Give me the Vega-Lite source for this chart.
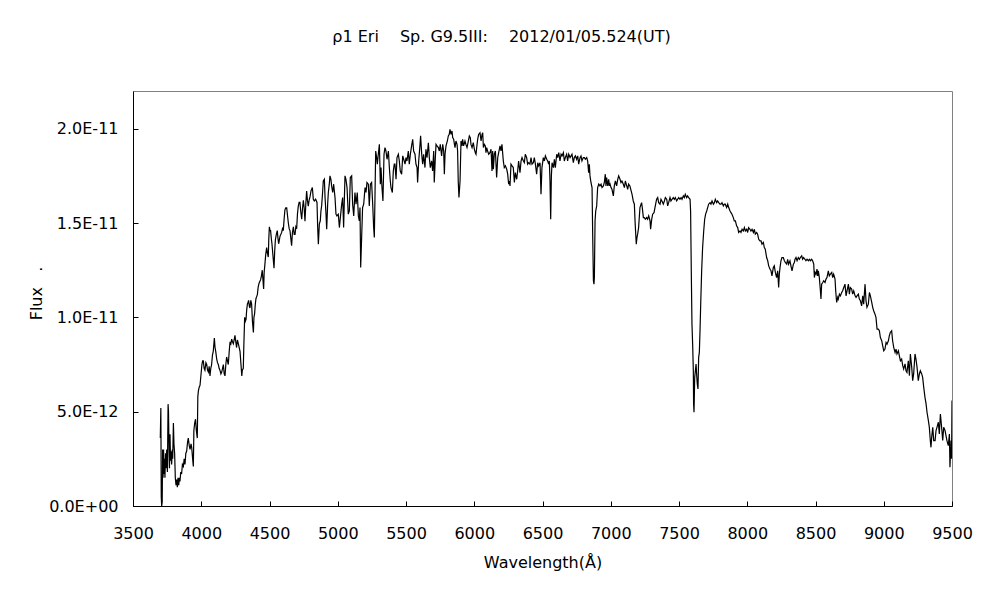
{
  "$schema": "https://vega.github.io/schema/vega-lite/v6.json",
  "autosize": {"type": "none"},
  "width": 819,
  "height": 415,
  "padding": {"left": 133, "top": 91, "right": 48, "bottom": 94},
  "background": "white",
  "config": {
    "font": "DejaVu Sans",
    "view": {"stroke": "#808080", "strokeWidth": 1},
    "axis": {"grid": false, "domainColor": "black", "tickColor": "black", "labelColor": "black", "titleColor": "black", "labelFontSize": 16, "titleFontSize": 16, "titleFontWeight": "normal", "tickSize": -5, "labelFont": "DejaVu Sans", "titleFont": "DejaVu Sans"}
  },
  "title": {"text": "ρ1 Eri　 Sp. G9.5III:　 2012/01/05.524(UT)", "font": "DejaVu Sans", "fontSize": 16, "fontWeight": "normal", "color": "black", "offset": 46, "anchor": "middle", "dx": -41},
  "data": {"values": [
{"w":3700,"f":0.36e-11},{"w":3704,"f":0.52e-11},{"w":3707,"f":0.05e-11},{"w":3710,"f":0},{"w":3714,"f":0.02e-11},{"w":3717,"f":0.30e-11},{"w":3720,"f":0.15e-11},{"w":3724,"f":0.30e-11},{"w":3727,"f":0.17e-11},{"w":3731,"f":0.25e-11},{"w":3734,"f":0.15e-11},{"w":3738,"f":0.28e-11},{"w":3742,"f":0.20e-11},{"w":3747,"f":0.30e-11},{"w":3752,"f":0.18e-11},{"w":3757,"f":0.54e-11},{"w":3760,"f":0.50e-11},{"w":3764,"f":0.30e-11},{"w":3767,"f":0.20e-11},{"w":3771,"f":0.38e-11},{"w":3775,"f":0.24e-11},{"w":3778,"f":0.29e-11},{"w":3783,"f":0.22e-11},{"w":3788,"f":0.30e-11},{"w":3791,"f":0.25e-11},{"w":3796,"f":0.44e-11},{"w":3800,"f":0.33e-11},{"w":3805,"f":0.28e-11},{"w":3810,"f":0.15e-11},{"w":3815,"f":0.11e-11},{"w":3820,"f":0.14e-11},{"w":3825,"f":0.10e-11},{"w":3830,"f":0.15e-11},{"w":3835,"f":0.11e-11},{"w":3840,"f":0.15e-11},{"w":3844,"f":0.13e-11},{"w":3850,"f":0.18e-11},{"w":3856,"f":0.17e-11},{"w":3862,"f":0.22e-11},{"w":3869,"f":0.21e-11},{"w":3875,"f":0.25e-11},{"w":3881,"f":0.22e-11},{"w":3887,"f":0.28e-11},{"w":3893,"f":0.29e-11},{"w":3900,"f":0.34e-11},{"w":3905,"f":0.36e-11},{"w":3912,"f":0.32e-11},{"w":3918,"f":0.30e-11},{"w":3925,"f":0.33e-11},{"w":3930,"f":0.31e-11},{"w":3937,"f":0.25e-11},{"w":3942,"f":0.21e-11},{"w":3946,"f":0.40e-11},{"w":3952,"f":0.44e-11},{"w":3958,"f":0.46e-11},{"w":3964,"f":0.40e-11},{"w":3971,"f":0.36e-11},{"w":3975,"f":0.58e-11},{"w":3979,"f":0.61e-11},{"w":3985,"f":0.63e-11},{"w":3991,"f":0.64e-11},{"w":3996,"f":0.68e-11},{"w":4005,"f":0.75e-11},{"w":4010,"f":0.77e-11},{"w":4015,"f":0.77e-11},{"w":4021,"f":0.73e-11},{"w":4027,"f":0.72e-11},{"w":4034,"f":0.76e-11},{"w":4040,"f":0.75e-11},{"w":4046,"f":0.72e-11},{"w":4052,"f":0.71e-11},{"w":4058,"f":0.74e-11},{"w":4064,"f":0.69e-11},{"w":4070,"f":0.73e-11},{"w":4076,"f":0.75e-11},{"w":4082,"f":0.80e-11},{"w":4088,"f":0.82e-11},{"w":4096,"f":0.89e-11},{"w":4101,"f":0.84e-11},{"w":4106,"f":0.82e-11},{"w":4113,"f":0.78e-11},{"w":4119,"f":0.76e-11},{"w":4125,"f":0.75e-11},{"w":4131,"f":0.73e-11},{"w":4137,"f":0.72e-11},{"w":4144,"f":0.70e-11},{"w":4150,"f":0.71e-11},{"w":4156,"f":0.73e-11},{"w":4162,"f":0.75e-11},{"w":4168,"f":0.70e-11},{"w":4174,"f":0.69e-11},{"w":4180,"f":0.75e-11},{"w":4186,"f":0.79e-11},{"w":4192,"f":0.77e-11},{"w":4198,"f":0.75e-11},{"w":4205,"f":0.82e-11},{"w":4211,"f":0.87e-11},{"w":4217,"f":0.86e-11},{"w":4223,"f":0.885e-11},{"w":4229,"f":0.87e-11},{"w":4235,"f":0.86e-11},{"w":4241,"f":0.88e-11},{"w":4247,"f":0.905e-11},{"w":4253,"f":0.87e-11},{"w":4259,"f":0.84e-11},{"w":4265,"f":0.88e-11},{"w":4272,"f":0.86e-11},{"w":4278,"f":0.84e-11},{"w":4284,"f":0.82e-11},{"w":4291,"f":0.75e-11},{"w":4297,"f":0.69e-11},{"w":4301,"f":0.72e-11},{"w":4308,"f":0.73e-11},{"w":4312,"f":0.85e-11},{"w":4318,"f":1.00e-11},{"w":4323,"f":0.98e-11},{"w":4328,"f":0.99e-11},{"w":4333,"f":1.04e-11},{"w":4338,"f":1.07e-11},{"w":4343,"f":1.08e-11},{"w":4347,"f":1.09e-11},{"w":4352,"f":1.06e-11},{"w":4357,"f":1.05e-11},{"w":4363,"f":1.09e-11},{"w":4369,"f":1.07e-11},{"w":4375,"f":0.98e-11},{"w":4382,"f":0.92e-11},{"w":4386,"f":1.00e-11},{"w":4391,"f":1.02e-11},{"w":4396,"f":1.07e-11},{"w":4401,"f":1.10e-11},{"w":4406,"f":1.11e-11},{"w":4411,"f":1.12e-11},{"w":4417,"f":1.16e-11},{"w":4423,"f":1.18e-11},{"w":4429,"f":1.19e-11},{"w":4435,"f":1.20e-11},{"w":4441,"f":1.22e-11},{"w":4447,"f":1.25e-11},{"w":4452,"f":1.20e-11},{"w":4457,"f":1.15e-11},{"w":4461,"f":1.24e-11},{"w":4465,"f":1.27e-11},{"w":4472,"f":1.33e-11},{"w":4479,"f":1.37e-11},{"w":4485,"f":1.34e-11},{"w":4491,"f":1.32e-11},{"w":4495,"f":1.42e-11},{"w":4499,"f":1.48e-11},{"w":4504,"f":1.46e-11},{"w":4508,"f":1.46e-11},{"w":4513,"f":1.42e-11},{"w":4518,"f":1.39e-11},{"w":4525,"f":1.33e-11},{"w":4533,"f":1.26e-11},{"w":4538,"f":1.35e-11},{"w":4543,"f":1.41e-11},{"w":4550,"f":1.44e-11},{"w":4557,"f":1.46e-11},{"w":4562,"f":1.42e-11},{"w":4567,"f":1.39e-11},{"w":4572,"f":1.41e-11},{"w":4577,"f":1.43e-11},{"w":4583,"f":1.44e-11},{"w":4589,"f":1.45e-11},{"w":4595,"f":1.47e-11},{"w":4601,"f":1.46e-11},{"w":4607,"f":1.52e-11},{"w":4613,"f":1.57e-11},{"w":4619,"f":1.58e-11},{"w":4626,"f":1.58e-11},{"w":4632,"f":1.54e-11},{"w":4638,"f":1.50e-11},{"w":4644,"f":1.47e-11},{"w":4650,"f":1.46e-11},{"w":4656,"f":1.42e-11},{"w":4662,"f":1.38e-11},{"w":4668,"f":1.45e-11},{"w":4675,"f":1.48e-11},{"w":4681,"f":1.44e-11},{"w":4687,"f":1.44e-11},{"w":4693,"f":1.48e-11},{"w":4699,"f":1.47e-11},{"w":4705,"f":1.55e-11},{"w":4711,"f":1.59e-11},{"w":4717,"f":1.61e-11},{"w":4723,"f":1.61e-11},{"w":4729,"f":1.56e-11},{"w":4736,"f":1.52e-11},{"w":4742,"f":1.58e-11},{"w":4748,"f":1.62e-11},{"w":4754,"f":1.58e-11},{"w":4760,"f":1.51e-11},{"w":4766,"f":1.60e-11},{"w":4772,"f":1.67e-11},{"w":4778,"f":1.62e-11},{"w":4784,"f":1.59e-11},{"w":4790,"f":1.62e-11},{"w":4797,"f":1.64e-11},
{"w":4804,"f":1.670e-11},{"w":4814,"f":1.688e-11},{"w":4821,"f":1.626e-11},{"w":4828,"f":1.617e-11},{"w":4838,"f":1.626e-11},{"w":4848,"f":1.609e-11},{"w":4853,"f":1.476e-11},{"w":4858,"f":1.388e-11},{"w":4865,"f":1.494e-11},{"w":4872,"f":1.512e-11},{"w":4877,"f":1.565e-11},{"w":4882,"f":1.591e-11},{"w":4889,"f":1.662e-11},{"w":4894,"f":1.723e-11},{"w":4902,"f":1.732e-11},{"w":4907,"f":1.635e-11},{"w":4914,"f":1.547e-11},{"w":4919,"f":1.467e-11},{"w":4926,"f":1.600e-11},{"w":4931,"f":1.662e-11},{"w":4938,"f":1.706e-11},{"w":4943,"f":1.750e-11},{"w":4950,"f":1.732e-11},{"w":4955,"f":1.697e-11},{"w":4963,"f":1.662e-11},{"w":4970,"f":1.706e-11},{"w":4980,"f":1.635e-11},{"w":4987,"f":1.547e-11},{"w":4994,"f":1.538e-11},{"w":5004,"f":1.547e-11},{"w":5012,"f":1.476e-11},{"w":5019,"f":1.529e-11},{"w":5029,"f":1.600e-11},{"w":5036,"f":1.635e-11},{"w":5043,"f":1.476e-11},{"w":5053,"f":1.750e-11},{"w":5060,"f":1.732e-11},{"w":5068,"f":1.688e-11},{"w":5077,"f":1.547e-11},{"w":5085,"f":1.565e-11},{"w":5092,"f":1.741e-11},{"w":5102,"f":1.750e-11},{"w":5109,"f":1.600e-11},{"w":5117,"f":1.538e-11},{"w":5126,"f":1.662e-11},{"w":5134,"f":1.600e-11},{"w":5143,"f":1.662e-11},{"w":5151,"f":1.538e-11},{"w":5158,"f":1.512e-11},{"w":5163,"f":1.582e-11},{"w":5168,"f":1.265e-11},{"w":5175,"f":1.423e-11},{"w":5182,"f":1.582e-11},{"w":5190,"f":1.600e-11},{"w":5200,"f":1.688e-11},{"w":5207,"f":1.662e-11},{"w":5214,"f":1.715e-11},{"w":5224,"f":1.706e-11},{"w":5231,"f":1.591e-11},{"w":5239,"f":1.706e-11},{"w":5248,"f":1.715e-11},{"w":5256,"f":1.600e-11},{"w":5263,"f":1.476e-11},{"w":5268,"f":1.423e-11},{"w":5273,"f":1.653e-11},{"w":5278,"f":1.882e-11},{"w":5285,"f":1.847e-11},{"w":5290,"f":1.812e-11},{"w":5297,"f":1.865e-11},{"w":5305,"f":1.917e-11},{"w":5312,"f":1.706e-11},{"w":5317,"f":1.794e-11},{"w":5324,"f":1.688e-11},{"w":5331,"f":1.617e-11},{"w":5339,"f":1.865e-11},{"w":5346,"f":1.900e-11},{"w":5353,"f":1.882e-11},{"w":5361,"f":1.838e-11},{"w":5371,"f":1.882e-11},{"w":5378,"f":1.794e-11},{"w":5385,"f":1.723e-11},{"w":5390,"f":1.688e-11},{"w":5400,"f":1.662e-11},{"w":5407,"f":1.776e-11},{"w":5414,"f":1.812e-11},{"w":5419,"f":1.812e-11},{"w":5427,"f":1.732e-11},{"w":5434,"f":1.847e-11},{"w":5444,"f":1.865e-11},{"w":5451,"f":1.829e-11},{"w":5458,"f":1.776e-11},{"w":5468,"f":1.759e-11},{"w":5476,"f":1.856e-11},{"w":5483,"f":1.838e-11},{"w":5493,"f":1.812e-11},{"w":5500,"f":1.847e-11},{"w":5507,"f":1.829e-11},{"w":5517,"f":1.882e-11},{"w":5524,"f":1.812e-11},{"w":5532,"f":1.865e-11},{"w":5541,"f":1.909e-11},{"w":5549,"f":1.944e-11},{"w":5556,"f":1.882e-11},{"w":5566,"f":1.865e-11},{"w":5573,"f":1.812e-11},{"w":5581,"f":1.794e-11},{"w":5585,"f":1.715e-11},{"w":5593,"f":1.829e-11},{"w":5602,"f":1.909e-11},{"w":5607,"f":1.962e-11},{"w":5615,"f":1.865e-11},{"w":5622,"f":1.812e-11},{"w":5629,"f":1.865e-11},{"w":5639,"f":1.794e-11},{"w":5646,"f":1.891e-11},{"w":5654,"f":1.847e-11},{"w":5664,"f":1.926e-11},{"w":5671,"f":1.847e-11},{"w":5678,"f":1.794e-11},{"w":5688,"f":1.829e-11},{"w":5695,"f":1.776e-11},{"w":5703,"f":1.882e-11},{"w":5707,"f":1.715e-11},{"w":5715,"f":1.847e-11},{"w":5720,"f":1.917e-11},{"w":5727,"f":1.909e-11},{"w":5737,"f":1.900e-11},{"w":5744,"f":1.882e-11},{"w":5751,"f":1.917e-11},{"w":5761,"f":1.856e-11},{"w":5769,"f":1.917e-11},{"w":5776,"f":1.882e-11},{"w":5781,"f":1.759e-11},{"w":5786,"f":1.865e-11},{"w":5793,"f":1.909e-11},{"w":5803,"f":1.935e-11},{"w":5810,"f":1.962e-11},{"w":5817,"f":1.970e-11},{"w":5822,"f":1.997e-11},{"w":5830,"f":1.970e-11},{"w":5837,"f":1.988e-11},{"w":5842,"f":1.953e-11},{"w":5849,"f":1.944e-11},{"w":5859,"f":1.900e-11},{"w":5866,"f":1.935e-11},{"w":5874,"f":1.917e-11},{"w":5878,"f":1.882e-11},{"w":5883,"f":1.715e-11},{"w":5888,"f":1.635e-11},{"w":5896,"f":1.723e-11},{"w":5903,"f":1.935e-11},{"w":5910,"f":1.909e-11},{"w":5915,"f":1.944e-11},{"w":5922,"f":1.909e-11},{"w":5932,"f":1.935e-11},{"w":5939,"f":1.917e-11},{"w":5947,"f":1.900e-11},{"w":5957,"f":1.935e-11},{"w":5964,"f":1.962e-11},{"w":5971,"f":1.953e-11},
{"w":5976,"f":1.917e-11},{"w":5984,"f":1.900e-11},{"w":5993,"f":1.926e-11},{"w":6001,"f":1.891e-11},{"w":6008,"f":1.873e-11},{"w":6013,"f":1.865e-11},{"w":6018,"f":1.900e-11},{"w":6025,"f":1.944e-11},{"w":6032,"f":1.970e-11},{"w":6042,"f":1.979e-11},{"w":6050,"f":1.935e-11},{"w":6057,"f":1.970e-11},{"w":6062,"f":1.979e-11},{"w":6067,"f":1.900e-11},{"w":6074,"f":1.917e-11},{"w":6081,"f":1.909e-11},{"w":6086,"f":1.873e-11},{"w":6091,"f":1.900e-11},{"w":6098,"f":1.882e-11},{"w":6106,"f":1.865e-11},{"w":6115,"f":1.873e-11},{"w":6123,"f":1.891e-11},{"w":6130,"f":1.776e-11},{"w":6135,"f":1.882e-11},{"w":6140,"f":1.785e-11},{"w":6147,"f":1.865e-11},{"w":6155,"f":1.882e-11},{"w":6164,"f":1.741e-11},{"w":6172,"f":1.847e-11},{"w":6179,"f":1.873e-11},{"w":6189,"f":1.909e-11},{"w":6196,"f":1.882e-11},{"w":6203,"f":1.917e-11},{"w":6213,"f":1.829e-11},{"w":6220,"f":1.794e-11},{"w":6228,"f":1.803e-11},{"w":6238,"f":1.785e-11},{"w":6245,"f":1.759e-11},{"w":6252,"f":1.706e-11},{"w":6257,"f":1.723e-11},{"w":6262,"f":1.697e-11},{"w":6269,"f":1.812e-11},{"w":6277,"f":1.803e-11},{"w":6286,"f":1.794e-11},{"w":6294,"f":1.715e-11},{"w":6301,"f":1.767e-11},{"w":6311,"f":1.732e-11},{"w":6318,"f":1.776e-11},{"w":6325,"f":1.829e-11},{"w":6335,"f":1.767e-11},{"w":6343,"f":1.829e-11},{"w":6350,"f":1.847e-11},{"w":6360,"f":1.829e-11},{"w":6367,"f":1.820e-11},{"w":6374,"f":1.865e-11},{"w":6384,"f":1.847e-11},{"w":6391,"f":1.812e-11},{"w":6399,"f":1.820e-11},{"w":6408,"f":1.812e-11},{"w":6416,"f":1.847e-11},{"w":6423,"f":1.812e-11},{"w":6433,"f":1.820e-11},{"w":6440,"f":1.847e-11},{"w":6448,"f":1.812e-11},{"w":6457,"f":1.759e-11},{"w":6465,"f":1.820e-11},{"w":6472,"f":1.803e-11},{"w":6482,"f":1.820e-11},{"w":6489,"f":1.653e-11},{"w":6496,"f":1.794e-11},{"w":6506,"f":1.847e-11},{"w":6514,"f":1.829e-11},{"w":6521,"f":1.856e-11},{"w":6531,"f":1.838e-11},{"w":6538,"f":1.829e-11},{"w":6545,"f":1.812e-11},{"w":6550,"f":1.829e-11},{"w":6555,"f":1.723e-11},{"w":6560,"f":1.520e-11},{"w":6565,"f":1.750e-11},{"w":6570,"f":1.820e-11},{"w":6580,"f":1.794e-11},{"w":6587,"f":1.838e-11},{"w":6594,"f":1.794e-11},{"w":6604,"f":1.865e-11},{"w":6611,"f":1.847e-11},{"w":6619,"f":1.873e-11},{"w":6628,"f":1.829e-11},{"w":6636,"f":1.865e-11},{"w":6643,"f":1.856e-11},{"w":6653,"f":1.873e-11},{"w":6660,"f":1.829e-11},{"w":6667,"f":1.847e-11},{"w":6677,"f":1.865e-11},{"w":6684,"f":1.829e-11},{"w":6692,"f":1.865e-11},{"w":6702,"f":1.847e-11},{"w":6709,"f":1.856e-11},{"w":6716,"f":1.865e-11},{"w":6726,"f":1.820e-11},{"w":6733,"f":1.847e-11},{"w":6741,"f":1.856e-11},{"w":6750,"f":1.838e-11},{"w":6758,"f":1.856e-11},{"w":6765,"f":1.812e-11},{"w":6775,"f":1.847e-11},{"w":6782,"f":1.856e-11},{"w":6789,"f":1.829e-11},{"w":6799,"f":1.847e-11},{"w":6807,"f":1.847e-11},{"w":6814,"f":1.838e-11},{"w":6824,"f":1.847e-11},{"w":6831,"f":1.829e-11},{"w":6838,"f":1.767e-11},{"w":6843,"f":1.812e-11},{"w":6848,"f":1.750e-11},{"w":6855,"f":1.715e-11},{"w":6863,"f":1.688e-11},{"w":6868,"f":1.423e-11},{"w":6873,"f":1.194e-11},{"w":6877,"f":1.176e-11},{"w":6880,"f":1.212e-11},{"w":6885,"f":1.512e-11},{"w":6890,"f":1.565e-11},{"w":6897,"f":1.591e-11},{"w":6904,"f":1.688e-11},{"w":6912,"f":1.706e-11},{"w":6921,"f":1.697e-11},{"w":6929,"f":1.706e-11},{"w":6936,"f":1.688e-11},{"w":6946,"f":1.697e-11},{"w":6953,"f":1.715e-11},{"w":6960,"f":1.759e-11},{"w":6965,"f":1.697e-11},{"w":6970,"f":1.741e-11},{"w":6978,"f":1.697e-11},{"w":6985,"f":1.732e-11},{"w":6990,"f":1.697e-11},{"w":6995,"f":1.706e-11},{"w":7002,"f":1.688e-11},{"w":7009,"f":1.679e-11},{"w":7019,"f":1.644e-11},{"w":7026,"f":1.697e-11},{"w":7034,"f":1.723e-11},{"w":7043,"f":1.697e-11},{"w":7051,"f":1.732e-11},{"w":7058,"f":1.750e-11},{"w":7068,"f":1.732e-11},{"w":7075,"f":1.715e-11},{"w":7082,"f":1.723e-11},{"w":7092,"f":1.706e-11},{"w":7100,"f":1.688e-11},{"w":7107,"f":1.723e-11},{"w":7117,"f":1.697e-11},{"w":7124,"f":1.679e-11},{"w":7131,"f":1.706e-11},{"w":7141,"f":1.695e-11},
{"w":7148,"f":1.675e-11},{"w":7156,"f":1.652e-11},{"w":7165,"f":1.617e-11},{"w":7173,"f":1.600e-11},{"w":7178,"f":1.511e-11},{"w":7183,"f":1.441e-11},{"w":7187,"f":1.388e-11},{"w":7192,"f":1.423e-11},{"w":7197,"f":1.441e-11},{"w":7204,"f":1.476e-11},{"w":7209,"f":1.529e-11},{"w":7214,"f":1.582e-11},{"w":7222,"f":1.600e-11},{"w":7226,"f":1.608e-11},{"w":7231,"f":1.582e-11},{"w":7239,"f":1.529e-11},{"w":7246,"f":1.529e-11},{"w":7253,"f":1.520e-11},{"w":7263,"f":1.529e-11},{"w":7270,"f":1.520e-11},{"w":7278,"f":1.538e-11},{"w":7288,"f":1.511e-11},{"w":7292,"f":1.467e-11},{"w":7300,"f":1.520e-11},{"w":7307,"f":1.547e-11},{"w":7317,"f":1.555e-11},{"w":7324,"f":1.582e-11},{"w":7331,"f":1.608e-11},{"w":7336,"f":1.626e-11},{"w":7344,"f":1.635e-11},{"w":7351,"f":1.608e-11},{"w":7361,"f":1.600e-11},{"w":7368,"f":1.626e-11},{"w":7375,"f":1.617e-11},{"w":7385,"f":1.600e-11},{"w":7393,"f":1.617e-11},{"w":7400,"f":1.635e-11},{"w":7410,"f":1.626e-11},{"w":7417,"f":1.591e-11},{"w":7424,"f":1.608e-11},{"w":7434,"f":1.635e-11},{"w":7441,"f":1.617e-11},{"w":7449,"f":1.626e-11},{"w":7458,"f":1.635e-11},{"w":7466,"f":1.626e-11},{"w":7473,"f":1.635e-11},{"w":7483,"f":1.617e-11},{"w":7490,"f":1.626e-11},{"w":7498,"f":1.635e-11},{"w":7507,"f":1.626e-11},{"w":7515,"f":1.635e-11},{"w":7522,"f":1.626e-11},{"w":7532,"f":1.644e-11},{"w":7539,"f":1.635e-11},{"w":7546,"f":1.652e-11},{"w":7556,"f":1.635e-11},{"w":7563,"f":1.644e-11},{"w":7571,"f":1.635e-11},{"w":7581,"f":1.626e-11},{"w":7585,"f":1.564e-11},{"w":7590,"f":1.247e-11},{"w":7595,"f":0.964e-11},{"w":7600,"f":0.858e-11},{"w":7605,"f":0.717e-11},{"w":7607,"f":0.541e-11},{"w":7610,"f":0.497e-11},{"w":7615,"f":0.682e-11},{"w":7620,"f":0.717e-11},{"w":7625,"f":0.752e-11},{"w":7629,"f":0.700e-11},{"w":7634,"f":0.647e-11},{"w":7639,"f":0.620e-11},{"w":7644,"f":0.788e-11},{"w":7649,"f":0.814e-11},{"w":7654,"f":0.929e-11},{"w":7659,"f":1.070e-11},{"w":7666,"f":1.247e-11},{"w":7673,"f":1.370e-11},{"w":7681,"f":1.458e-11},{"w":7688,"f":1.520e-11},{"w":7695,"f":1.547e-11},{"w":7703,"f":1.564e-11},{"w":7710,"f":1.582e-11},{"w":7717,"f":1.600e-11},{"w":7727,"f":1.608e-11},{"w":7734,"f":1.600e-11},{"w":7742,"f":1.617e-11},{"w":7752,"f":1.600e-11},{"w":7759,"f":1.608e-11},{"w":7766,"f":1.626e-11},{"w":7776,"f":1.608e-11},{"w":7783,"f":1.617e-11},{"w":7791,"f":1.608e-11},{"w":7800,"f":1.600e-11},{"w":7808,"f":1.600e-11},{"w":7815,"f":1.608e-11},{"w":7825,"f":1.591e-11},{"w":7832,"f":1.600e-11},{"w":7839,"f":1.600e-11},{"w":7849,"f":1.582e-11},{"w":7857,"f":1.600e-11},{"w":7864,"f":1.582e-11},{"w":7874,"f":1.564e-11},{"w":7881,"f":1.555e-11},{"w":7888,"f":1.547e-11},{"w":7898,"f":1.529e-11},{"w":7905,"f":1.511e-11},{"w":7913,"f":1.511e-11},{"w":7922,"f":1.485e-11},{"w":7930,"f":1.476e-11},{"w":7937,"f":1.450e-11},{"w":7947,"f":1.458e-11},{"w":7954,"f":1.450e-11},{"w":7962,"f":1.467e-11},{"w":7971,"f":1.458e-11},{"w":7979,"f":1.476e-11},{"w":7986,"f":1.458e-11},{"w":7996,"f":1.467e-11},{"w":8003,"f":1.450e-11},{"w":8010,"f":1.476e-11},{"w":8020,"f":1.467e-11},{"w":8027,"f":1.458e-11},{"w":8035,"f":1.467e-11},{"w":8045,"f":1.450e-11},{"w":8052,"f":1.467e-11},{"w":8059,"f":1.441e-11},{"w":8069,"f":1.450e-11},{"w":8076,"f":1.441e-11},{"w":8084,"f":1.414e-11},{"w":8093,"f":1.405e-11},{"w":8101,"f":1.405e-11},{"w":8108,"f":1.388e-11},{"w":8118,"f":1.397e-11},{"w":8125,"f":1.370e-11},{"w":8132,"f":1.361e-11},{"w":8142,"f":1.317e-11},{"w":8150,"f":1.300e-11},{"w":8157,"f":1.273e-11},{"w":8167,"f":1.255e-11},{"w":8174,"f":1.247e-11},{"w":8181,"f":1.220e-11},{"w":8191,"f":1.264e-11},{"w":8198,"f":1.273e-11},{"w":8206,"f":1.238e-11},{"w":8215,"f":1.211e-11},{"w":8223,"f":1.247e-11},{"w":8230,"f":1.158e-11},{"w":8235,"f":1.229e-11},{"w":8240,"f":1.264e-11},{"w":8247,"f":1.300e-11},{"w":8254,"f":1.317e-11},{"w":8264,"f":1.317e-11},{"w":8272,"f":1.300e-11},{"w":8279,"f":1.291e-11},{"w":8289,"f":1.282e-11},{"w":8296,"f":1.308e-11},{"w":8303,"f":1.282e-11},{"w":8313,"f":1.300e-11},{"w":8320,"f":1.273e-11},{"w":8328,"f":1.247e-11},{"w":8338,"f":1.282e-11},{"w":8345,"f":1.291e-11},{"w":8350,"f":1.308e-11},
{"w":8357,"f":1.317e-11},{"w":8365,"f":1.300e-11},{"w":8374,"f":1.317e-11},{"w":8382,"f":1.308e-11},{"w":8389,"f":1.317e-11},{"w":8399,"f":1.326e-11},{"w":8406,"f":1.308e-11},{"w":8413,"f":1.317e-11},{"w":8423,"f":1.308e-11},{"w":8430,"f":1.300e-11},{"w":8438,"f":1.308e-11},{"w":8448,"f":1.300e-11},{"w":8455,"f":1.308e-11},{"w":8462,"f":1.300e-11},{"w":8472,"f":1.308e-11},{"w":8479,"f":1.300e-11},{"w":8487,"f":1.282e-11},{"w":8492,"f":1.211e-11},{"w":8497,"f":1.238e-11},{"w":8504,"f":1.229e-11},{"w":8511,"f":1.256e-11},{"w":8516,"f":1.220e-11},{"w":8521,"f":1.247e-11},{"w":8528,"f":1.211e-11},{"w":8536,"f":1.141e-11},{"w":8540,"f":1.097e-11},{"w":8545,"f":1.176e-11},{"w":8553,"f":1.185e-11},{"w":8560,"f":1.194e-11},{"w":8570,"f":1.185e-11},{"w":8577,"f":1.203e-11},{"w":8584,"f":1.211e-11},{"w":8594,"f":1.247e-11},{"w":8601,"f":1.220e-11},{"w":8609,"f":1.229e-11},{"w":8619,"f":1.238e-11},{"w":8626,"f":1.211e-11},{"w":8633,"f":1.229e-11},{"w":8643,"f":1.203e-11},{"w":8648,"f":1.141e-11},{"w":8655,"f":1.079e-11},{"w":8663,"f":1.106e-11},{"w":8667,"f":1.097e-11},{"w":8675,"f":1.123e-11},{"w":8682,"f":1.114e-11},{"w":8692,"f":1.132e-11},{"w":8699,"f":1.141e-11},{"w":8707,"f":1.158e-11},{"w":8716,"f":1.176e-11},{"w":8724,"f":1.114e-11},{"w":8731,"f":1.141e-11},{"w":8741,"f":1.176e-11},{"w":8748,"f":1.123e-11},{"w":8755,"f":1.158e-11},{"w":8765,"f":1.150e-11},{"w":8772,"f":1.123e-11},{"w":8780,"f":1.141e-11},{"w":8790,"f":1.114e-11},{"w":8797,"f":1.106e-11},{"w":8804,"f":1.114e-11},{"w":8814,"f":1.123e-11},{"w":8821,"f":1.097e-11},{"w":8829,"f":1.088e-11},{"w":8838,"f":1.061e-11},{"w":8846,"f":1.114e-11},{"w":8853,"f":1.070e-11},{"w":8863,"f":1.176e-11},{"w":8870,"f":1.088e-11},{"w":8877,"f":1.053e-11},{"w":8887,"f":1.070e-11},{"w":8895,"f":1.132e-11},{"w":8902,"f":1.114e-11},{"w":8912,"f":1.079e-11},{"w":8919,"f":1.053e-11},{"w":8926,"f":1.035e-11},{"w":8936,"f":1.017e-11},{"w":8943,"f":1.000e-11},{"w":8951,"f":0.938e-11},{"w":8960,"f":0.938e-11},{"w":8968,"f":0.929e-11},{"w":8975,"f":0.894e-11},{"w":8985,"f":0.876e-11},{"w":8992,"f":0.850e-11},{"w":9000,"f":0.823e-11},{"w":9009,"f":0.832e-11},{"w":9017,"f":0.867e-11},{"w":9024,"f":0.858e-11},{"w":9034,"f":0.876e-11},{"w":9041,"f":0.903e-11},{"w":9048,"f":0.920e-11},{"w":9058,"f":0.929e-11},{"w":9065,"f":0.876e-11},{"w":9073,"f":0.841e-11},{"w":9083,"f":0.814e-11},{"w":9090,"f":0.832e-11},{"w":9097,"f":0.806e-11},{"w":9107,"f":0.823e-11},{"w":9114,"f":0.797e-11},{"w":9122,"f":0.770e-11},{"w":9131,"f":0.779e-11},{"w":9139,"f":0.744e-11},{"w":9146,"f":0.726e-11},{"w":9156,"f":0.753e-11},{"w":9163,"f":0.717e-11},{"w":9170,"f":0.708e-11},{"w":9180,"f":0.770e-11},{"w":9188,"f":0.691e-11},{"w":9195,"f":0.806e-11},{"w":9205,"f":0.735e-11},{"w":9212,"f":0.664e-11},{"w":9219,"f":0.700e-11},{"w":9229,"f":0.806e-11},{"w":9236,"f":0.779e-11},{"w":9244,"f":0.735e-11},{"w":9253,"f":0.664e-11},{"w":9261,"f":0.700e-11},{"w":9268,"f":0.717e-11},{"w":9278,"f":0.700e-11},{"w":9285,"f":0.682e-11},{"w":9293,"f":0.629e-11},{"w":9302,"f":0.576e-11},{"w":9310,"f":0.541e-11},{"w":9317,"f":0.497e-11},{"w":9327,"f":0.453e-11},{"w":9334,"f":0.417e-11},{"w":9341,"f":0.347e-11},{"w":9346,"f":0.311e-11},{"w":9351,"f":0.364e-11},{"w":9359,"f":0.417e-11},{"w":9366,"f":0.347e-11},{"w":9376,"f":0.347e-11},{"w":9383,"f":0.400e-11},{"w":9390,"f":0.417e-11},{"w":9400,"f":0.444e-11},{"w":9407,"f":0.382e-11},{"w":9415,"f":0.488e-11},{"w":9424,"f":0.417e-11},{"w":9432,"f":0.347e-11},{"w":9439,"f":0.417e-11},{"w":9449,"f":0.400e-11},{"w":9456,"f":0.373e-11},{"w":9463,"f":0.347e-11},{"w":9473,"f":0.320e-11},{"w":9481,"f":0.382e-11},{"w":9485,"f":0.206e-11},{"w":9493,"f":0.347e-11},{"w":9497,"f":0.250e-11},{"w":9500,"f":0.559e-11}
  ]},
  "mark": {"type": "line", "color": "black", "strokeWidth": 1.2, "clip": true},
  "encoding": {
    "x": {"field": "w", "type": "quantitative", "scale": {"domain": [3500, 9500], "nice": false, "zero": false},
      "axis": {"values": [3500,4000,4500,5000,5500,6000,6500,7000,7500,8000,8500,9000,9500], "format": "d", "labelFlush": false, "labelPadding": 24, "title": "Wavelength(Å)", "titlePadding": 13}},
    "y": {"field": "f", "type": "quantitative", "scale": {"domain": [0, 2.2e-11], "nice": false},
      "axis": {"values": [0, 5e-12, 1e-11, 1.5e-11, 2e-11], "labelExpr": "datum.value == 0 ? '0.0E+00' : upper(format(datum.value, '.1e'))", "labelPadding": 20, "title": "Flux\u00a0\u00a0\u00a0.", "titleBaseline": "alphabetic", "titleX": -92, "titleY": 202}}
  }
}
